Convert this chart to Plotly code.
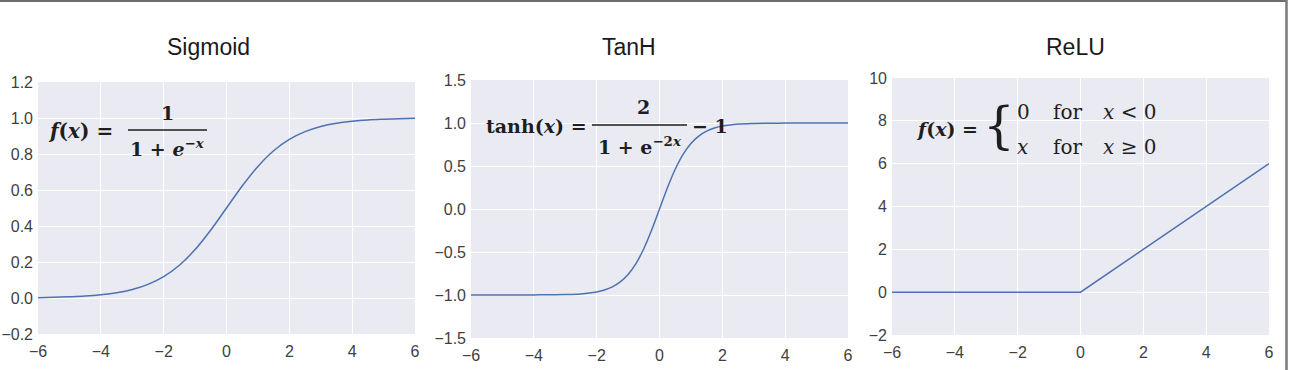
import plotly.graph_objects as go

# ---------------- data ----------------
sig_x = [-6, -5.5, -5, -4.5, -4, -3.5, -3, -2.5, -2, -1.5, -1, -0.5, 0,
         0.5, 1, 1.5, 2, 2.5, 3, 3.5, 4, 4.5, 5, 5.5, 6]
sig_y = [0.002, 0.004, 0.007, 0.011, 0.018, 0.029, 0.047, 0.076, 0.119, 0.182, 0.269, 0.378, 0.500,
         0.622, 0.731, 0.818, 0.881, 0.924, 0.953, 0.971, 0.982, 0.989, 0.993, 0.996, 0.998]

tanh_x = [-6, -5, -4, -3, -2.5, -2, -1.75, -1.5, -1.25, -1, -0.75, -0.5, -0.25, 0,
          0.25, 0.5, 0.75, 1, 1.25, 1.5, 1.75, 2, 2.5, 3, 4, 5, 6]
tanh_y = [-1.000, -1.000, -0.999, -0.995, -0.987, -0.964, -0.941, -0.905, -0.848, -0.762, -0.635, -0.462, -0.245, 0.000,
          0.245, 0.462, 0.635, 0.762, 0.848, 0.905, 0.941, 0.964, 0.987, 0.995, 0.999, 1.000, 1.000]

relu_x = [-6, 0, 6]
relu_y = [0, 0, 6]

titles = ["Sigmoid", "TanH", "ReLU"]
x_ticks = [-6, -4, -2, 0, 2, 4, 6]
y1_ticks = [-0.2, 0.0, 0.2, 0.4, 0.6, 0.8, 1.0, 1.2]
y2_ticks = [-1.5, -1.0, -0.5, 0.0, 0.5, 1.0, 1.5]
y3_ticks = [-2, 0, 2, 4, 6, 8, 10]

# ---------------- layout helpers ----------------
W, H = 1291, 370
def px(x):
    return x / W
def py(y):
    return 1 - y / H

BG = "#EAEAF2"
LINE = "#4C72B0"
TICKFONT = dict(family="Liberation Sans, Arial, sans-serif", size=16, color="#3f3f3f")
SERIF = "DejaVu Serif, Liberation Serif, serif"

fig = go.Figure()
fig.add_trace(go.Scatter(x=sig_x, y=sig_y, mode="lines", line=dict(color=LINE, width=1.5, shape="spline"),
                         xaxis="x", yaxis="y", showlegend=False))
fig.add_trace(go.Scatter(x=tanh_x, y=tanh_y, mode="lines", line=dict(color=LINE, width=1.5, shape="spline"),
                         xaxis="x2", yaxis="y2", showlegend=False))
fig.add_trace(go.Scatter(x=relu_x, y=relu_y, mode="lines", line=dict(color=LINE, width=1.5),
                         xaxis="x3", yaxis="y3", showlegend=False))

def xax(dom, anchor):
    return dict(domain=dom, anchor=anchor, range=[-6, 6], tickvals=x_ticks, automargin=False,
                showgrid=True, gridcolor="white", gridwidth=1, zeroline=False,
                showline=False, ticks="", tickfont=TICKFONT, fixedrange=True, ticklabelstandoff=6)

def yax(dom, anchor, rng, tv, fmt):
    return dict(domain=dom, anchor=anchor, range=rng, tickvals=tv, tickformat=fmt, automargin=False,
                showgrid=True, gridcolor="white", gridwidth=1, zeroline=False,
                showline=False, ticks="", tickfont=TICKFONT, fixedrange=True, ticklabelstandoff=4)

ann = []
# titles
for t, cx in zip(titles, [208, 629, 1075]):
    ann.append(dict(x=px(cx), y=py(47), xref="paper", yref="paper", text=t, showarrow=False,
                    xanchor="center", yanchor="middle",
                    font=dict(family="Liberation Sans, Arial, sans-serif", size=23, color="#1a1a1a")))

def txt(x, y, s, size=19, xanchor="left", bold=False):
    ann.append(dict(x=px(x), y=py(y), xref="paper", yref="paper", text=("<b>%s</b>" % s) if bold else s,
                    showarrow=False, xanchor=xanchor, yanchor="middle",
                    font=dict(family=SERIF, size=size, color="#1e1e1e")))

shapes = []
def hbar(x0, x1, y):
    shapes.append(dict(type="line", xref="paper", yref="paper", x0=px(x0), x1=px(x1), y0=py(y), y1=py(y),
                       line=dict(color="#1e1e1e", width=1.6)))

# Sigmoid formula
txt(46, 131, "<i>f</i>(<i>x</i>) =", size=20, bold=True)
hbar(128, 207, 130)
txt(167, 113, "1", size=19, xanchor="center", bold=True)
txt(167, 148, "1 + <i>e</i><sup>−<i>x</i></sup>", size=19, xanchor="center", bold=True)

# TanH formula
txt(484, 126, "tanh(<i>x</i>) =", size=19, bold=True)
hbar(592, 687, 125)
txt(643, 107, "2", size=19, xanchor="center", bold=True)
txt(640, 146, "1 + e<sup>−2<i>x</i></sup>", size=19, xanchor="center", bold=True)
txt(690, 126, "− 1", size=19, bold=True)

# ReLU formula
txt(914, 129, "<i>f</i>(<i>x</i>) =", size=19, bold=True)
txt(981, 126, "{", size=50)
txt(1015, 112, "0", size=20)
txt(1051, 112, "for", size=20)
txt(1101, 112, "<i>x</i> &lt; 0", size=20)
txt(1015, 147, "<i>x</i>", size=20)
txt(1051, 147, "for", size=20)
txt(1101, 147, "<i>x</i> ≥ 0", size=20)

# outer frame lines (top and right)
shapes.append(dict(type="line", xref="paper", yref="paper", x0=0, x1=px(1287), y0=py(1), y1=py(1),
                   line=dict(color="#6e6e6e", width=2)))
shapes.append(dict(type="line", xref="paper", yref="paper", x0=px(1286.5), x1=px(1286.5), y0=0, y1=1,
                   line=dict(color="#7a7a7a", width=2.5)))

fig.update_layout(
    width=W, height=H, margin=dict(l=0, r=0, t=0, b=0),
    paper_bgcolor="white", plot_bgcolor=BG, showlegend=False,
    xaxis=xax([px(38), px(415)], "y"),
    yaxis=yax([py(334), py(82)], "x", [-0.2, 1.2], y1_ticks, ".1f"),
    xaxis2=xax([px(471), px(848)], "y2"),
    yaxis2=yax([py(338), py(80)], "x2", [-1.5, 1.5], y2_ticks, ".1f"),
    xaxis3=xax([px(892), px(1269)], "y3"),
    yaxis3=yax([py(335), py(78)], "x3", [-2, 10], y3_ticks, "d"),
    annotations=ann, shapes=shapes,
)

fig.write_html("out.html")
